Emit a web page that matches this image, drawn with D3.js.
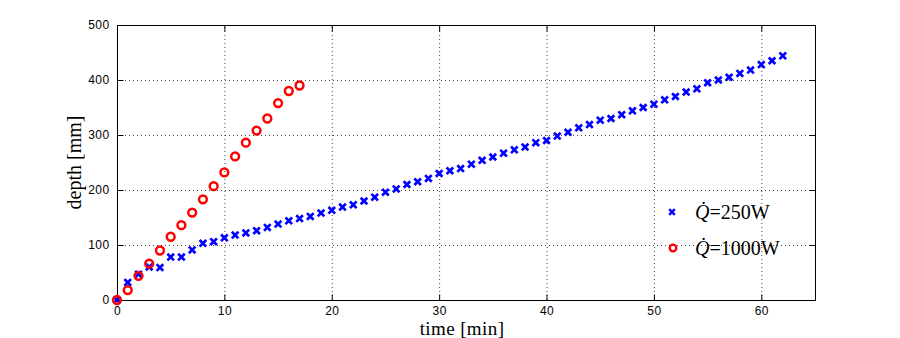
<!DOCTYPE html>
<html>
<head>
<meta charset="utf-8">
<script src="https://cdn.jsdelivr.net/npm/d3@7"></script>
<style>
  body { margin: 0; background: #fff; }
  svg { display: block; }
  .tick text { font-family: "Liberation Sans", Arial, sans-serif; font-size: 12px; fill: #000; letter-spacing: 0.4px; }
  .label { font-family: "Liberation Serif", "DejaVu Serif", serif; font-size: 20px; fill: #000; }
</style>
</head>
<body>
<svg id="chart" width="900" height="338"></svg>
<script>
const W = 900;
const H = 338;
const MARGIN = { left: 117, right: 85, top: 25, bottom: 38 };

// time [min] for the 250W run: 0..62
const time250 = d3.range(0, 63);
const depth250 = [
  0, 32, 47, 60, 59, 78, 78, 91, 103, 106,
  113, 118, 122, 126, 132, 138, 144, 148, 152, 158,
  163, 169, 173, 180, 187, 196, 202, 210, 215, 221,
  230, 235, 239, 247, 254, 260, 267, 273, 278, 286,
  290, 298, 305, 313, 319, 327, 330, 337, 344, 350,
  356, 364, 370, 378, 384, 395, 400, 405, 412, 418,
  428, 435, 444
];

const time1000 = d3.range(0, 18);
const depth1000 = [
  0, 18, 44, 66, 90, 115, 136, 159, 183, 207,
  232, 261, 286, 308, 330, 358, 380, 390
];

const xTicks = [0, 10, 20, 30, 40, 50, 60];
const yTicks = [0, 100, 200, 300, 400, 500];
const legendLabels = ['250W', '1000W'];

const svg = d3.select('#chart');
svg.append('rect').attr('width', W).attr('height', H).attr('fill', '#fff');

const x = d3.scaleLinear().domain([0, 65]).range([MARGIN.left, W - MARGIN.right]);
const y = d3.scaleLinear().domain([0, 500]).range([H - MARGIN.bottom, MARGIN.top]);

// grid
let grid = svg.append('g');
grid.selectAll('line.gx')
  .data(xTicks.slice(1))
  .enter().append('line')
  .attr('x1', d => x(d) + 0.5).attr('x2', d => x(d) + 0.5)
  .attr('y1', y(0)).attr('y2', y(500))
  .attr('stroke', '#444').attr('stroke-width', 1).attr('stroke-dasharray', '1,3');
grid.selectAll('line.gy')
  .data(yTicks.slice(1, -1))
  .enter().append('line')
  .attr('y1', d => y(d) + 0.5).attr('y2', d => y(d) + 0.5)
  .attr('x1', x(0)).attr('x2', x(65))
  .attr('stroke', '#444').attr('stroke-width', 1).attr('stroke-dasharray', '1,3');

// axes, ticks point inward like matlab
const TL = 6;
svg.append('g')
  .attr('transform', 'translate(0,' + (y(0) + 0.5) + ')')
  .call(d3.axisBottom(x).tickValues(xTicks).tickSizeInner(-TL).tickSizeOuter(0).tickPadding(TL))
  .call(g => g.select('.domain').remove());
svg.append('g')
  .attr('transform', 'translate(0,' + (y(500) + 0.5) + ')')
  .call(d3.axisTop(x).tickValues(xTicks).tickSizeInner(-TL).tickSizeOuter(0).tickFormat(''))
  .call(g => g.select('.domain').remove());
svg.append('g')
  .attr('transform', 'translate(' + (x(0) + 0.5) + ',0)')
  .call(d3.axisLeft(y).tickValues(yTicks).tickSizeInner(-TL).tickSizeOuter(0).tickPadding(TL + 2))
  .call(g => g.select('.domain').remove());
svg.append('g')
  .attr('transform', 'translate(' + (x(65) + 0.5) + ',0)')
  .call(d3.axisRight(y).tickValues(yTicks).tickSizeInner(-TL).tickSizeOuter(0).tickFormat(''))
  .call(g => g.select('.domain').remove());
svg.selectAll('.tick line').attr('stroke', '#000');

svg.append('rect')
  .attr('x', x(0) + 0.5).attr('y', y(500) + 0.5)
  .attr('width', x(65) - x(0)).attr('height', y(0) - y(500))
  .attr('fill', 'none').attr('stroke', '#000').attr('stroke-width', 1);

// markers
function cross (sel, s, w) {
  sel.append('path')
    .attr('d', 'M' + (-s) + ',' + (-s) + 'L' + s + ',' + s + 'M' + (-s) + ',' + s + 'L' + s + ',' + (-s))
    .attr('stroke', '#0000ff').attr('stroke-width', w).attr('fill', 'none');
}

let blue = svg.append('g').selectAll('g')
  .data(time250.map((t, i) => [t, depth250[i]]))
  .enter().append('g')
  .attr('transform', d => 'translate(' + x(d[0]) + ',' + y(d[1]) + ')');
cross(blue, 3.3, 2.7);

svg.append('g').selectAll('circle')
  .data(time1000.map((t, i) => [t, depth1000[i]]))
  .enter().append('circle')
  .attr('cx', d => x(d[0])).attr('cy', d => y(d[1]))
  .attr('r', 3.9)
  .attr('fill', 'none').attr('stroke', '#ff0000').attr('stroke-width', 2.5);

// axis labels
svg.append('text').attr('class', 'label')
  .attr('x', 462).attr('y', 335).attr('text-anchor', 'middle')
  .style('font-size', '19px').style('letter-spacing', '0.4px')
  .text('time [min]');
svg.append('text').attr('class', 'label')
  .attr('transform', 'translate(81,' + y(250) + ') rotate(-90)')
  .attr('text-anchor', 'middle')
  .text('depth [mm]');

// legend
let legend = svg.append('g');
let l1 = legend.append('g').attr('transform', 'translate(672,212)');
cross(l1, 2.8, 2.4);
legend.append('circle')
  .attr('cx', 673).attr('cy', 248).attr('r', 3.3)
  .attr('fill', 'none').attr('stroke', '#ff0000').attr('stroke-width', 2.3);

legendLabels.forEach((lab, i) => {
  let t = legend.append('text').attr('class', 'label')
    .attr('x', 695).attr('y', 219 + i * 36)
    .style('font-size', '20px');
  t.append('tspan').style('font-style', 'italic').text('Q\u0307');
  t.append('tspan').text('=' + lab);
});
</script>
</body>
</html>
